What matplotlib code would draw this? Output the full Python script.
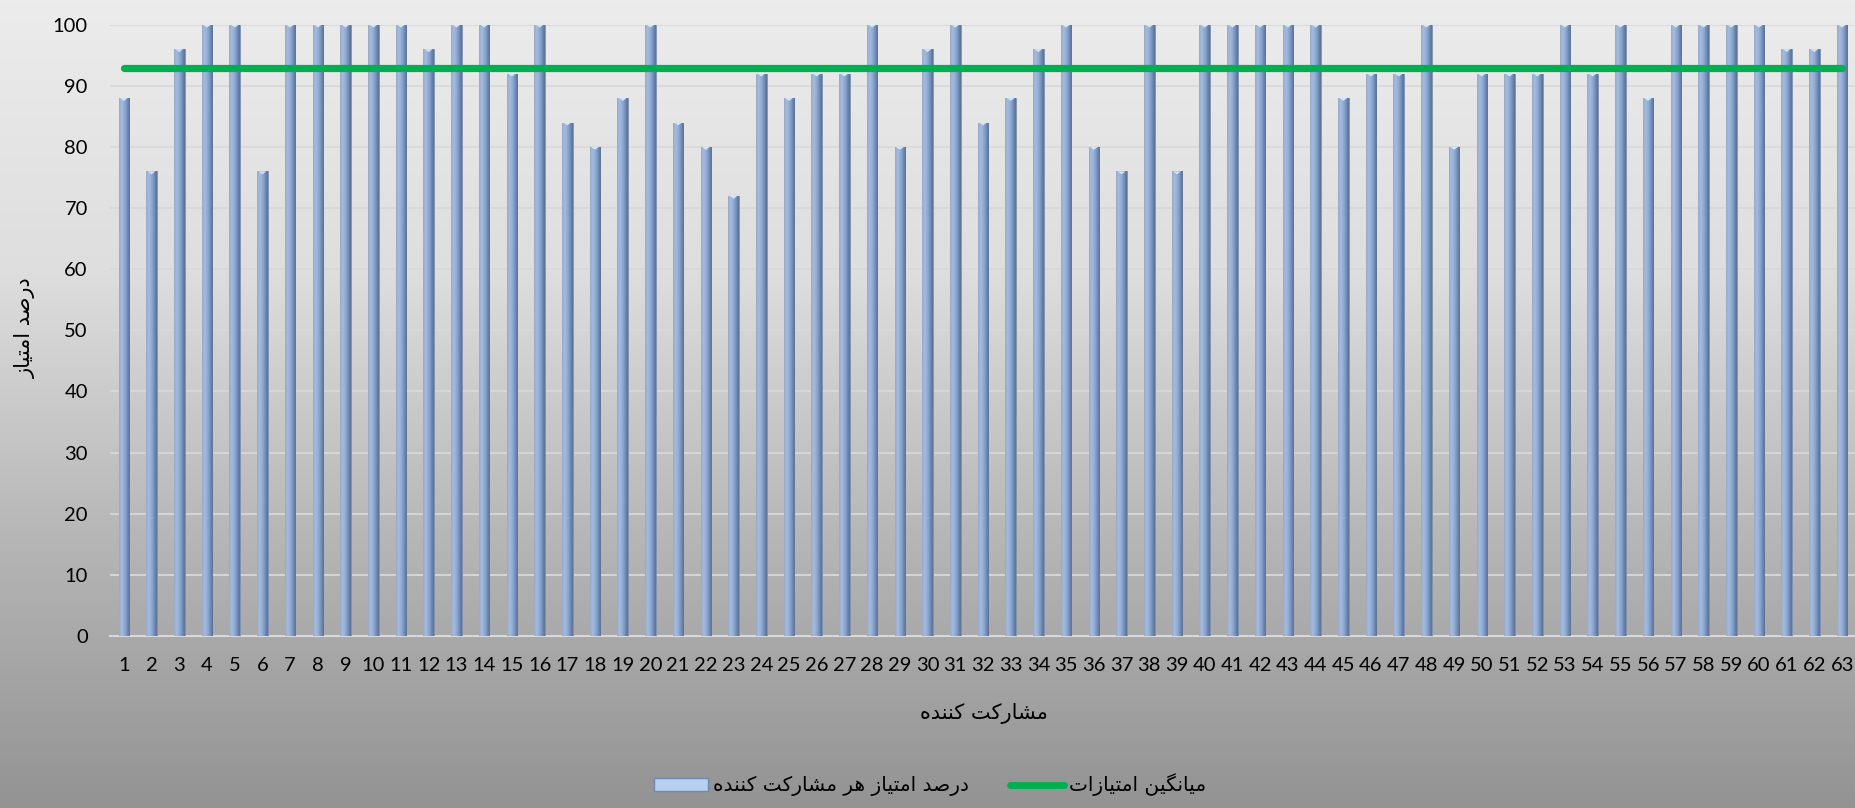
import numpy as np
import matplotlib
matplotlib.use("Agg")
import matplotlib.pyplot as plt
from matplotlib.patches import Patch
from matplotlib.lines import Line2D
from matplotlib.path import Path
from matplotlib.colors import LinearSegmentedColormap

# ---------------- data ----------------
participants = list(range(1, 64))
scores = [88, 76, 96, 100, 100, 76, 100, 100, 100, 100,
          100, 96, 100, 100, 92, 100, 84, 80, 88, 100,
          84, 80, 72, 92, 88, 92, 92, 100, 80, 96,
          100, 84, 88, 96, 100, 80, 76, 100, 76, 100,
          100, 100, 100, 100, 88, 92, 92, 100, 80, 92,
          92, 92, 100, 92, 100, 88, 100, 100, 100, 100,
          96, 96, 100]
average_score = 92.9
y_ticks = [0, 10, 20, 30, 40, 50, 60, 70, 80, 90, 100]

ylabel_text = "درصد امتیاز"
xlabel_text = "مشارکت کننده"
bar_series_name = "درصد امتیاز هر مشارکت کننده"
line_series_name = "میانگین امتیازات"

# ---------------- minimal Persian shaping (matplotlib has no bidi/shaping) ----------------
FORMS = {  # iso, final, initial, medial
    'ا': ('\uFE8D', '\uFE8E', None, None),
    'د': ('\uFEA9', '\uFEAA', None, None),
    'ر': ('\uFEAD', '\uFEAE', None, None),
    'ز': ('\uFEAF', '\uFEB0', None, None),
    'ص': ('\uFEB9', '\uFEBA', '\uFEBB', '\uFEBC'),
    'م': ('\uFEE1', '\uFEE2', '\uFEE3', '\uFEE4'),
    'ت': ('\uFE95', '\uFE96', '\uFE97', '\uFE98'),
    'ش': ('\uFEB5', '\uFEB6', '\uFEB7', '\uFEB8'),
    'ن': ('\uFEE5', '\uFEE6', '\uFEE7', '\uFEE8'),
    'ه': ('\uFEE9', '\uFEEA', '\uFEEB', '\uFEEC'),
    'ی': ('\uFBFC', '\uFBFD', '\uFBFE', '\uFBFF'),
    'ک': ('\uFB8E', '\uFB8F', '\uFB90', '\uFB91'),
    'گ': ('\uFB92', '\uFB93', '\uFB94', '\uFB95'),
}


def is_dual(c):
    return c in FORMS and FORMS[c][2] is not None


def shape(text):
    out = []
    for i, c in enumerate(text):
        if c not in FORMS:
            out.append(c)
            continue
        prev = text[i - 1] if i > 0 else ''
        nxt = text[i + 1] if i + 1 < len(text) else ''
        jp = is_dual(prev)
        jn = is_dual(c) and (nxt in FORMS)
        iso, fin, ini, med = FORMS[c]
        if jp and jn:
            out.append(med)
        elif jp:
            out.append(fin)
        elif jn:
            out.append(ini)
        else:
            out.append(iso)
    return ''.join(out)[::-1]


# ---------------- figure ----------------
plt.rcParams['font.family'] = ['Lato', 'DejaVu Sans']
FS = 14.5

fig = plt.figure(figsize=(18.56, 8.08), dpi=100)

# background gradient
bg = fig.add_axes([0, 0, 1, 1], zorder=-10)
grad = np.linspace(0, 1, 256).reshape(-1, 1)
cmap = LinearSegmentedColormap.from_list("bg", ["#ececec", "#dedede", "#b6b6b6", "#939393"])
bg.imshow(grad, aspect='auto', cmap=cmap, extent=[0, 1, 0, 1])
bg.axis('off')

ax = fig.add_axes([110 / 1856, 1 - 636 / 808, 1746 / 1856, (636 - 24.7) / 808])
ax.patch.set_alpha(0)

x = np.array(participants)
vals = np.array(scores)
W = 0.38

# cylinder-like bars: base bars, then a horizontal gradient clipped to each bar
bars = ax.bar(x, vals, width=W, color='#8aa6d0', edgecolor='#7a8fae', linewidth=0.6, zorder=3)
bar_cmap = LinearSegmentedColormap.from_list(
    "cyl", ["#9aa9bf", "#a3bbe0", "#98b3dc", "#86a2cc", "#6f88ae", "#5b7194"])
hgrad = np.linspace(0, 1, 64).reshape(1, -1)
for b in bars:
    bx, bw, bh = b.get_x(), b.get_width(), b.get_height()
    im = ax.imshow(hgrad, aspect='auto', cmap=bar_cmap, extent=[bx, bx + bw, 0, bh],
                   zorder=3.1, interpolation='bilinear')
    im.set_clip_path(b)

# light bevel cap on each bar top
cap = Path([(-1, 0), (1, 0), (0, -0.75), (-1, 0)],
           [Path.MOVETO, Path.LINETO, Path.LINETO, Path.CLOSEPOLY])
ax.scatter(x, vals, marker=cap, s=30, color='#d3e7fc', edgecolors='none', zorder=3.3)

# average line
ax.plot(x, [average_score] * len(x), color='#00b050', linewidth=5.2,
        solid_capstyle='round', zorder=4)

ax.set_xlim(0.5, 63.5)
ax.set_ylim(0, 100)
ax.set_yticks(y_ticks)
ax.set_xticks(x)
ax.set_xticklabels([str(p) for p in participants])
ax.grid(axis='y', color='#d9d9d9', linewidth=1.3, zorder=0)
ax.set_axisbelow(True)
for s in ['top', 'right', 'left']:
    ax.spines[s].set_visible(False)
ax.spines['bottom'].set_color('#d9d9d9')
ax.spines['bottom'].set_linewidth(1.5)
ax.tick_params(axis='both', length=0, labelsize=FS, colors='black')
ax.tick_params(axis='y', pad=16)
ax.tick_params(axis='x', pad=15)

fig.text(984 / 1856, 1 - 713 / 808, shape(xlabel_text), ha='center', va='center',
         fontsize=FS + 0.5, family=['DejaVu Sans'])
fig.text(25 / 1856, 1 - 328 / 808, shape(ylabel_text), ha='center', va='center',
         rotation=90, fontsize=FS + 0.5, family=['DejaVu Sans'])

handles = [Patch(facecolor='#b8d0f0', edgecolor='#6f88ad', linewidth=1.0),
           Line2D([0], [0], color='#00b050', linewidth=5, solid_capstyle='round')]
labels = [shape(bar_series_name), shape(line_series_name)]
leg = fig.legend(handles, labels, loc='center', bbox_to_anchor=(930 / 1856, 1 - 785 / 808),
                 ncol=2, frameon=False, handlelength=2.7, handleheight=0.6,
                 handletextpad=0.25, columnspacing=2.0,
                 prop={'family': ['DejaVu Sans'], 'size': FS})

fig.savefig('out.png', dpi=100)
